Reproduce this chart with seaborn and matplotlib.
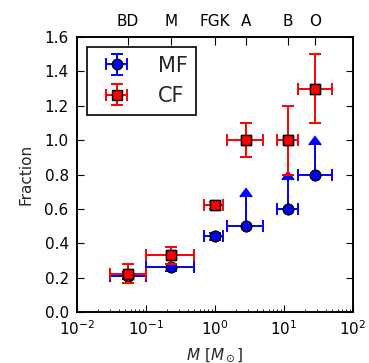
import numpy as np
import matplotlib
matplotlib.use("Agg")
import matplotlib.pyplot as plt
import seaborn as sns
import pandas as pd

# ---- data ----
classes = ["BD", "M", "FGK", "A", "B", "O"]
mass = [0.055, 0.23, 1.0, 2.8, 11.3, 28.0]
mass_lo = [0.03, 0.1, 0.7, 1.5, 8.0, 16.0]
mass_hi = [0.1, 0.5, 1.3, 5.0, 16.0, 50.0]

mf = [0.21, 0.26, 0.44, 0.50, 0.60, 0.80]
mf_err = [0.02, 0.02, 0.02, 0.17, 0.17, 0.17]
mf_lowerlimit = [False, False, False, True, True, True]

cf = [0.22, 0.33, 0.62, 1.00, 1.00, 1.30]
cf_err_lo = [0.05, 0.05, 0.02, 0.10, 0.20, 0.20]
cf_err_hi = [0.06, 0.05, 0.02, 0.10, 0.20, 0.20]

sns.set_style("ticks")
plt.rcParams["font.family"] = ["DejaVu Sans"]
plt.rcParams["mathtext.fontset"] = "dejavusans"
plt.rcParams.update({
    "xtick.direction": "in", "ytick.direction": "in",
    "xtick.major.size": 5, "ytick.major.size": 5,
    "xtick.minor.size": 2.5, "ytick.minor.size": 2.5,
    "axes.linewidth": 1.2, "axes.edgecolor": "black",
    "xtick.color": "black", "ytick.color": "black",
    "font.size": 10.5,
})

fig = plt.figure(figsize=(3.69, 3.63), dpi=100)
ax = fig.add_axes([0.2087, 0.1405, 0.9566 - 0.2087, 0.898 - 0.1405])

m = np.array(mass)
xerr = np.vstack([m - np.array(mass_lo), np.array(mass_hi) - m])

df = pd.DataFrame({"mass": mass, "mf": mf, "cf": cf})

ax.errorbar(mass, mf, xerr=xerr, yerr=mf_err, lolims=mf_lowerlimit,
            fmt="o", color="blue", mfc="blue", mec="black", ms=7.5,
            elinewidth=1.4, capsize=4, capthick=1.4, label="MF", zorder=3)
sns.scatterplot(data=df, x="mass", y="mf", ax=ax, marker="o", color="blue",
                edgecolor="black", s=56, linewidth=1, legend=False, zorder=4)

ax.errorbar(mass, cf, xerr=xerr, yerr=[cf_err_lo, cf_err_hi],
            fmt="s", color="red", mfc="red", mec="black", ms=7.5,
            elinewidth=1.4, capsize=4, capthick=1.4, label="CF", zorder=5)
sns.scatterplot(data=df, x="mass", y="cf", ax=ax, marker="s", color="red",
                edgecolor="black", s=56, linewidth=1, legend=False, zorder=6)

ax.set_xscale("log")
ax.set_xlim(1e-2, 1e2)
ax.set_ylim(0, 1.6)
ax.set_yticks(np.arange(0, 1.61, 0.2))
ax.set_yticklabels([f"{v:.1f}" for v in np.arange(0, 1.61, 0.2)])
ax.tick_params(axis="x", which="both", top=False, bottom=True, labelsize=11, pad=5)
ax.tick_params(axis="y", which="both", left=True, right=True, labelsize=11, pad=6)
ax.set_xlabel(r"$M\ [M_\odot]$", fontsize=11, labelpad=6)
ax.set_ylabel("Fraction", fontsize=11, labelpad=8)

ax2 = ax.twiny()
ax2.set_xscale("log")
ax2.set_xlim(ax.get_xlim())
ax2.set_xticks(mass)
ax2.set_xticklabels(classes)
ax2.minorticks_off()
ax2.tick_params(axis="x", direction="in", length=6, labelsize=11, pad=6)

leg = ax.legend(loc="upper left", numpoints=1, fontsize=15, frameon=True,
                fancybox=False, edgecolor="black", framealpha=1,
                handlelength=2.0, borderpad=0.4, handletextpad=1.0)
leg.get_frame().set_linewidth(1.2)

fig.savefig("out.png", dpi=100, facecolor="white")
